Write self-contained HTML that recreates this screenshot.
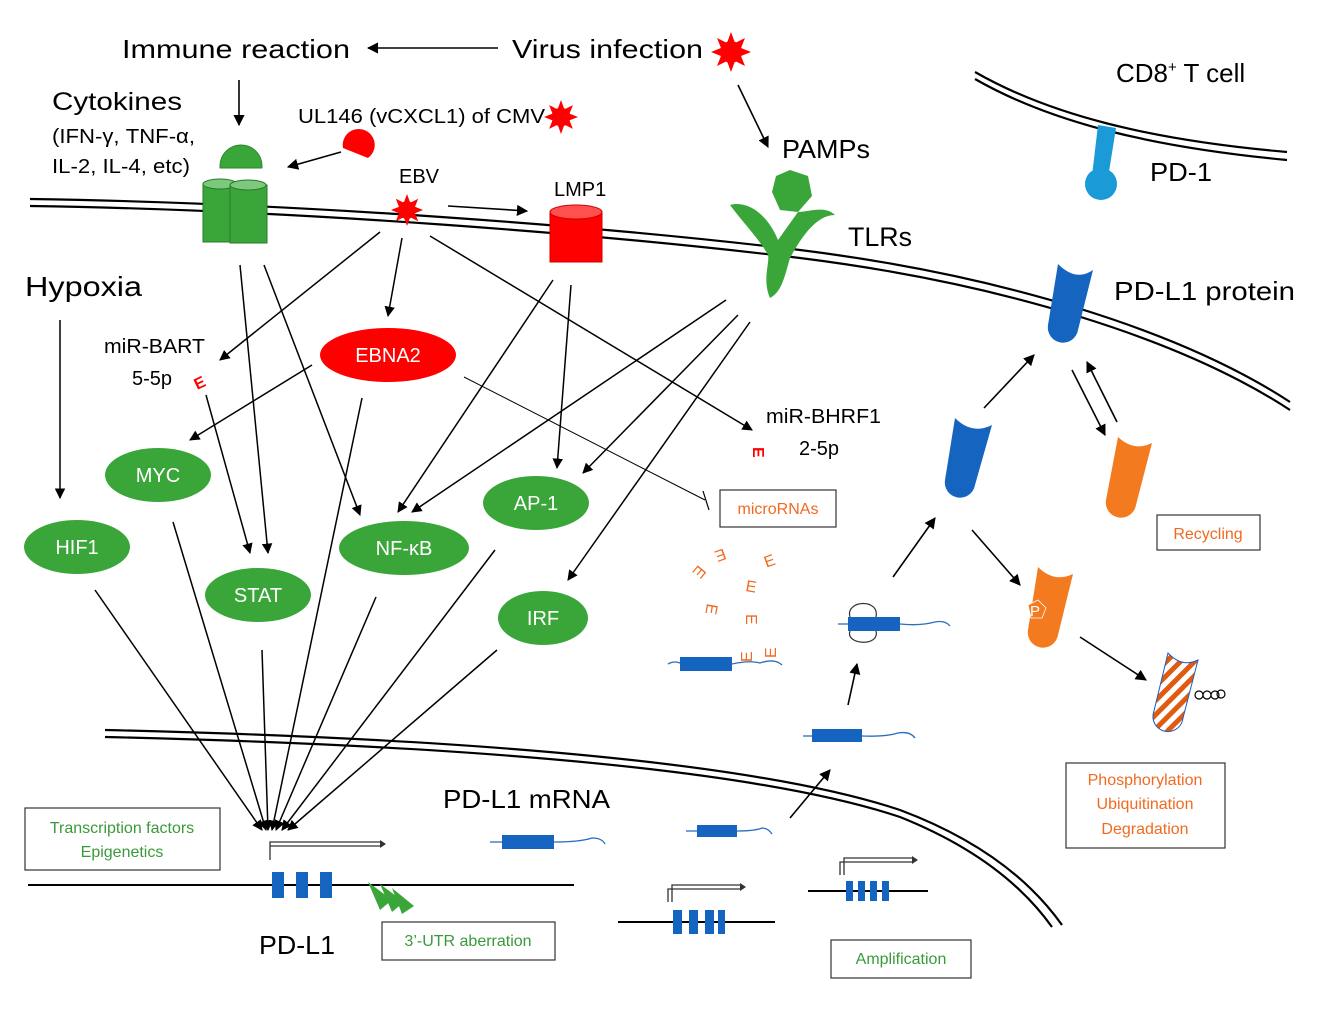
<!DOCTYPE html>
<html><head><meta charset="utf-8"><style>
html,body{margin:0;padding:0;background:#fff}
svg{display:block}
text{font-family:"Liberation Sans","DejaVu Sans",sans-serif}
</style></head><body>
<svg width="1324" height="1009" viewBox="0 0 1324 1009" xmlns="http://www.w3.org/2000/svg">
<defs>
<marker id="a" viewBox="0 0 10 10" refX="9" refY="5" markerWidth="7" markerHeight="7" orient="auto"><path d="M0,0L10,5L0,10z" fill="#000"/></marker>
<pattern id="st" width="10" height="10" patternUnits="userSpaceOnUse" patternTransform="rotate(45)"><rect width="10" height="10" fill="#fff"/><rect width="5" height="10" fill="#e05a10"/></pattern>
<g id="star"><polygon points="0,-20 4,-9 14,-14 10,-4 20,0 10,4 14,14 4,9 0,20 -4,9 -14,14 -10,4 -20,0 -10,-4 -14,-14 -4,-9" fill="#f00"/><circle r="11" fill="#f00"/></g>
</defs>

<!-- membranes -->
<g fill="none" stroke="#000" stroke-width="2.2">
<path d="M30,199 C300,203 600,226 800,250 C1000,275 1180,330 1290,402"/>
<path d="M30,206 C300,210 600,234 800,258 C1000,283 1180,338 1290,410"/>
<path d="M975,72 C1050,115 1150,140 1287,152"/>
<path d="M975,79 C1050,122 1150,147 1287,160"/>
<path d="M105,730 C450,738 750,760 900,810 C980,840 1030,880 1062,925"/>
<path d="M105,737 C450,745 750,767 900,817 C975,847 1022,885 1052,927"/>
</g>

<!-- Top text -->
<text x="122" y="58" font-size="26" textLength="228" lengthAdjust="spacingAndGlyphs">Immune reaction</text>
<text x="512" y="58" font-size="26" textLength="191" lengthAdjust="spacingAndGlyphs">Virus infection</text>
<use href="#star" x="731" y="52"/>
<text x="52" y="110" font-size="25" textLength="130" lengthAdjust="spacingAndGlyphs">Cytokines</text>
<text x="52" y="143" font-size="20" textLength="143" lengthAdjust="spacingAndGlyphs">(IFN-γ, TNF-α,</text>
<text x="52" y="173" font-size="20" textLength="138" lengthAdjust="spacingAndGlyphs">IL-2, IL-4, etc)</text>
<text x="298" y="123" font-size="20" textLength="247" lengthAdjust="spacingAndGlyphs">UL146 (vCXCL1) of CMV</text>
<use href="#star" x="561" y="117" transform="translate(561 117) scale(0.85) translate(-561 -117)"/>
<text x="399" y="183" font-size="20">EBV</text>
<use href="#star" x="407" y="210" transform="translate(407 210) scale(0.8) translate(-407 -210)"/>
<text x="554" y="196" font-size="20">LMP1</text>
<text x="782" y="158" font-size="26" textLength="88" lengthAdjust="spacingAndGlyphs">PAMPs</text>
<text x="848" y="246" font-size="27" textLength="64" lengthAdjust="spacingAndGlyphs">TLRs</text>
<text x="1116" y="82" font-size="26">CD8<tspan font-size="15" dy="-10">+</tspan><tspan dy="10"> T cell</tspan></text>
<text x="1150" y="181" font-size="26" textLength="62" lengthAdjust="spacingAndGlyphs">PD-1</text>
<text x="1114" y="300" font-size="26" textLength="181" lengthAdjust="spacingAndGlyphs">PD-L1 protein</text>
<text x="25" y="296" font-size="28" textLength="117" lengthAdjust="spacingAndGlyphs">Hypoxia</text>
<text x="104" y="353" font-size="20" textLength="101" lengthAdjust="spacingAndGlyphs">miR-BART</text>
<text x="132" y="385" font-size="20">5-5p</text>
<text x="766" y="423" font-size="20" textLength="115" lengthAdjust="spacingAndGlyphs">miR-BHRF1</text>
<text x="799" y="455" font-size="20">2-5p</text>
<text x="443" y="808" font-size="26" textLength="167" lengthAdjust="spacingAndGlyphs">PD-L1 mRNA</text>
<text x="259" y="954" font-size="26" textLength="76" lengthAdjust="spacingAndGlyphs">PD-L1</text>

<!-- top arrows -->
<g stroke="#000" stroke-width="1.6" fill="none" marker-end="url(#a)">
<line x1="498" y1="48" x2="368" y2="48"/>
<line x1="239" y1="80" x2="239" y2="125"/>
<line x1="341" y1="152" x2="288" y2="167"/>
<line x1="448" y1="206" x2="527" y2="211"/>
<line x1="738" y1="85" x2="768" y2="147"/>
</g>

<!-- cytokine receptor -->
<path d="M220,166 A20,20 0 0 1 262,166 L262,168 L220,168 Z" fill="#3aa63a" stroke="#2a8a2a"/>
<rect x="203" y="184" width="34" height="58" fill="#3aa63a" stroke="#2a7a2a"/>
<ellipse cx="220" cy="184" rx="17" ry="5" fill="#7cc87c" stroke="#2a7a2a"/>
<rect x="230" y="185" width="37" height="58" fill="#3aa63a" stroke="#2a7a2a"/>
<ellipse cx="248" cy="185" rx="18" ry="5" fill="#7cc87c" stroke="#2a7a2a"/>
<path d="M343,148 A16,16 0 1 1 368,158 Z" fill="#f00"/>
<!-- LMP1 -->
<rect x="550" y="212" width="52" height="50" fill="#f00" stroke="#c00"/>
<ellipse cx="576" cy="212" rx="26" ry="7" fill="#ff5050" stroke="#c00"/>
<!-- TLR -->
<polygon points="790,170 808,176 812,196 798,212 780,210 772,192 776,176" fill="#3aa63a"/>
<path d="M730,205 C748,200 768,215 778,240 L798,212 C808,212 825,205 835,215 C815,215 800,240 790,258 C785,275 782,292 770,298 C762,280 770,262 768,255 C760,240 745,225 730,205 Z" fill="#3aa63a"/>
<!-- PD-1 -->
<path d="M1098,125 L1116,128 L1108,178 L1092,176 Z" fill="#1a9ad6"/>
<circle cx="1101" cy="184" r="16" fill="#1a9ad6"/>
<!-- PD-L1 membrane -->
<path d="M1058,264 Q1076,282 1093,270 L1078,330 A14,14 0 0 1 1048,325 Z" fill="#1565c0"/>
<!-- PD-L1 internal -->
<path d="M955,418 Q972,435 992,425 L975,485 A15,15 0 0 1 945,480 Z" fill="#1565c0"/>
<path d="M1118,437 Q1134,452 1152,443 L1136,505 A15,15 0 0 1 1106,500 Z" fill="#f47a20"/>
<path d="M1038,567 Q1054,583 1073,574 L1058,635 A15,15 0 0 1 1028,630 Z" fill="#f47a20"/>
<polygon points="1028,605 1038,600 1046,608 1042,618 1031,618" fill="#f47a20" stroke="#fff" stroke-width="0.8"/>
<text x="1030" y="616" font-size="15" fill="#fff">P</text>
<path d="M1168,653 Q1182,668 1198,660 L1183,718 A14,14 0 0 1 1153,715 Z" fill="url(#st)" stroke="#1a5cc0" stroke-width="1"/>
<g fill="none" stroke="#000" stroke-width="1.2"><circle cx="1199" cy="695" r="4"/><circle cx="1207" cy="695" r="4"/><circle cx="1215" cy="695" r="4"/><circle cx="1221" cy="694" r="4"/></g>

<!-- right arrows -->
<g stroke="#000" stroke-width="1.6" fill="none" marker-end="url(#a)">
<line x1="984" y1="408" x2="1034" y2="355"/>
<line x1="1072" y1="370" x2="1105" y2="435"/>
<line x1="1117" y1="422" x2="1087" y2="362"/>
<line x1="972" y1="530" x2="1020" y2="585"/>
<line x1="1080" y1="637" x2="1146" y2="680"/>
<line x1="893" y1="577" x2="935" y2="518"/>
<line x1="848" y1="705" x2="857" y2="664"/>
<line x1="790" y1="818" x2="830" y2="770"/>
</g>

<!-- ellipses -->
<g font-size="20" fill="#fff" text-anchor="middle">
<ellipse cx="388" cy="355" rx="68" ry="27" fill="#f00"/><text x="388" y="362">EBNA2</text>
<ellipse cx="158" cy="475" rx="53" ry="27" fill="#3aa63a"/><text x="158" y="482">MYC</text>
<ellipse cx="77" cy="547" rx="53" ry="27" fill="#3aa63a"/><text x="77" y="554">HIF1</text>
<ellipse cx="258" cy="595" rx="53" ry="27" fill="#3aa63a"/><text x="258" y="602">STAT</text>
<ellipse cx="404" cy="548" rx="65" ry="27" fill="#3aa63a"/><text x="404" y="555">NF-κB</text>
<ellipse cx="536" cy="503" rx="53" ry="27" fill="#3aa63a"/><text x="536" y="510">AP-1</text>
<ellipse cx="543" cy="618" rx="45" ry="27" fill="#3aa63a"/><text x="543" y="625">IRF</text>
</g>

<!-- pathway arrows -->
<g stroke="#000" stroke-width="1.5" fill="none" marker-end="url(#a)">
<line x1="380" y1="232" x2="220" y2="360"/>
<line x1="402" y1="238" x2="388" y2="316"/>
<line x1="430" y1="236" x2="752" y2="430"/>
<line x1="312" y1="365" x2="190" y2="440"/>
<line x1="206" y1="395" x2="250" y2="553"/>
<line x1="240" y1="265" x2="268" y2="553"/>
<line x1="264" y1="265" x2="360" y2="515"/>
<line x1="60" y1="320" x2="60" y2="498"/>
<line x1="553" y1="280" x2="398" y2="512"/>
<line x1="571" y1="285" x2="557" y2="468"/>
<line x1="726" y1="300" x2="412" y2="512"/>
<line x1="738" y1="315" x2="583" y2="473"/>
<line x1="750" y1="322" x2="568" y2="580"/>
<line x1="95" y1="590" x2="262" y2="830"/>
<line x1="173" y1="522" x2="266" y2="830"/>
<line x1="362" y1="398" x2="272" y2="830"/>
<line x1="262" y1="650" x2="268" y2="830"/>
<line x1="376" y1="597" x2="276" y2="830"/>
<line x1="495" y1="550" x2="282" y2="830"/>
<line x1="497" y1="650" x2="288" y2="830"/>
</g>
<line x1="464" y1="377" x2="705" y2="500" stroke="#000" stroke-width="1"/>
<line x1="703" y1="491" x2="709" y2="510" stroke="#000" stroke-width="1.2"/>

<!-- microRNA Es -->
<text x="194" y="388" font-size="16" fill="#f00" font-weight="bold" transform="rotate(-25 200 382)">E</text>
<text x="752" y="462" font-size="16" fill="#f00" font-weight="bold" transform="rotate(90 760 455)">E</text>
<g font-size="16" fill="#f06a20">
<text x="714" y="562" transform="rotate(160 720 556)">E</text>
<text x="695" y="578" transform="rotate(130 700 572)">E</text>
<text x="764" y="566" transform="rotate(-20 770 560)">E</text>
<text x="746" y="592" transform="rotate(10 752 586)">E</text>
<text x="706" y="616" transform="rotate(100 712 610)">E</text>
<text x="744" y="628" transform="rotate(90 752 622)">E</text>
<text x="740" y="662" transform="rotate(-90 746 656)">E</text>
<text x="764" y="658" transform="rotate(-90 770 652)">E</text>
</g>

<!-- mRNAs -->
<g stroke="#2a6fc0" stroke-width="1.3" fill="none">
<path d="M668,664 Q675,660 682,664"/><path d="M732,664 Q750,660 760,663 Q775,658 782,665"/>
<path d="M838,624 L850,624"/><path d="M900,624 Q920,626 935,622 Q945,620 950,626"/>
<path d="M803,736 L812,736"/><path d="M862,736 Q885,737 898,733 Q910,731 915,738"/>
<path d="M490,842 L502,842"/><path d="M554,842 Q580,842 592,838 Q602,838 605,844"/>
<path d="M686,831 L697,831"/><path d="M737,831 Q755,831 762,828 Q768,828 772,834"/>
</g>
<g fill="#1565c0">
<rect x="680" y="657" width="52" height="14"/>
<rect x="848" y="617" width="52" height="14"/>
<rect x="812" y="729" width="50" height="13"/>
<rect x="502" y="835" width="52" height="14"/>
<rect x="697" y="825" width="40" height="12"/>
</g>
<path d="M850,617 C845,600 880,598 876,617 M850,631 C845,645 880,647 876,631" fill="none" stroke="#333" stroke-width="1.2"/>

<!-- DNA -->
<g stroke="#000" stroke-width="2">
<line x1="28" y1="885" x2="574" y2="885"/>
<line x1="618" y1="922" x2="775" y2="922"/>
<line x1="808" y1="891" x2="928" y2="891"/>
</g>
<g fill="#1565c0">
<rect x="272" y="872" width="12" height="26"/><rect x="296" y="872" width="12" height="26"/><rect x="320" y="872" width="12" height="26"/>
<rect x="673" y="910" width="9" height="24"/><rect x="689" y="910" width="9" height="24"/><rect x="705" y="910" width="9" height="24"/><rect x="718" y="910" width="7" height="24"/>
<rect x="846" y="881" width="7" height="20"/><rect x="858" y="881" width="7" height="20"/><rect x="870" y="881" width="7" height="20"/><rect x="882" y="881" width="7" height="20"/>
</g>
<g fill="none" stroke="#333" stroke-width="1.3">
<path d="M270,860 L270,846 L380,846 M270,853 L270,842 L380,842"/>
<path d="M668,902 L668,889 L740,889 M672,902 L672,885 L740,885"/>
<path d="M840,875 L840,862 L912,862 M844,875 L844,858 L912,858"/>
</g>
<polygon points="380,840 386,844 380,848" fill="#333"/>
<polygon points="740,883 746,887 740,891" fill="#333"/>
<polygon points="912,856 918,860 912,864" fill="#333"/>
<g fill="#3aa63a"><polygon points="368,882 392,900 380,910"/><polygon points="380,884 404,902 392,912"/><polygon points="392,888 414,906 402,914"/></g>

<!-- boxes -->
<g fill="#fff" stroke="#333" stroke-width="1.2">
<rect x="25" y="808" width="195" height="62"/>
<rect x="382" y="922" width="173" height="38"/>
<rect x="831" y="940" width="140" height="38"/>
<rect x="1066" y="763" width="159" height="85"/>
<rect x="1157" y="515" width="103" height="35"/>
<rect x="720" y="490" width="116" height="37"/>
</g>
<g font-size="16" text-anchor="middle">
<text x="122" y="833" fill="#3a9a3a">Transcription factors</text>
<text x="122" y="857" fill="#3a9a3a">Epigenetics</text>
<text x="468" y="946" fill="#3a9a3a">3’-UTR aberration</text>
<text x="901" y="964" fill="#3a9a3a">Amplification</text>
<text x="1145" y="785" fill="#f06a20">Phosphorylation</text>
<text x="1145" y="809" fill="#f06a20">Ubiquitination</text>
<text x="1145" y="834" fill="#f06a20">Degradation</text>
<text x="1208" y="539" fill="#f06a20">Recycling</text>
<text x="778" y="514" fill="#f06a20">microRNAs</text>
</g>
</svg>
</body></html>
